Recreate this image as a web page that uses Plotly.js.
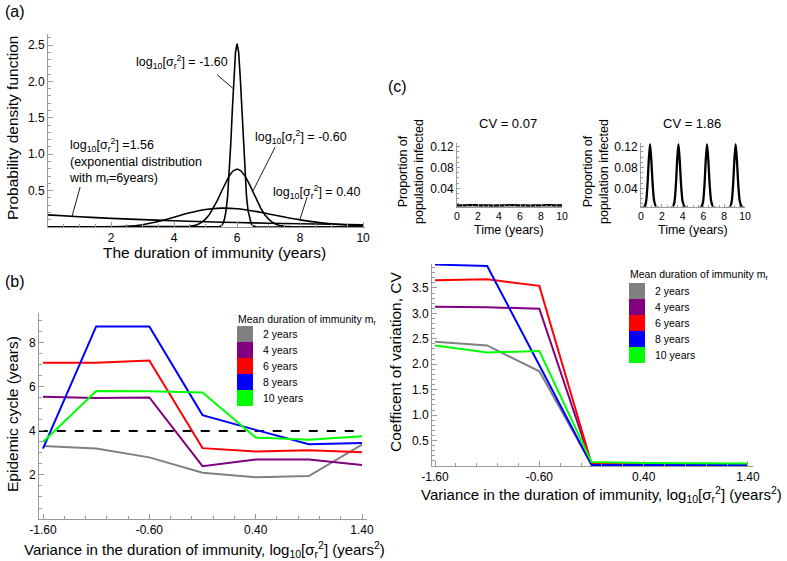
<!DOCTYPE html>
<html><head><meta charset="utf-8">
<script src="https://cdn.plot.ly/plotly-3.0.1.min.js"></script>
<style>body{margin:0;background:#fff}#c{width:787px;height:561px}</style>
</head><body><div id="c"></div><script>
// ---------- data ----------
// (a) probability density functions, mean 6 years
const pdfX_m160 = [0,5.3,5.4,5.45,5.5,5.55,5.6,5.65,5.7,5.75,5.8,5.85,5.9,5.95,6.0,6.05,6.1,6.15,6.2,6.25,6.3,6.35,6.4,6.45,6.5,6.55,6.6,6.7,10];
const pdfY_m160 = [0,0,0.002,0.006,0.017,0.045,0.105,0.22,0.42,0.726,1.14,1.61,2.06,2.40,2.52,2.40,2.06,1.61,1.14,0.726,0.42,0.22,0.105,0.045,0.017,0.006,0.002,0,0];
const pdfX_m060 = [0,4.0,4.25,4.5,4.625,4.75,4.875,5.0,5.125,5.25,5.375,5.5,5.625,5.75,5.875,6.0,6.125,6.25,6.375,6.5,6.625,6.75,6.875,7.0,7.125,7.25,7.375,7.5,7.75,8.0,10];
const pdfY_m060 = [0,0.0003,0.0018,0.009,0.0185,0.0355,0.064,0.109,0.173,0.26,0.366,0.484,0.602,0.703,0.771,0.796,0.771,0.703,0.602,0.484,0.366,0.26,0.173,0.109,0.064,0.0355,0.0185,0.009,0.0018,0.0003,0];
const pdfX_p040 = [0,1,1.5,2,2.5,3,3.5,4,4.5,5,5.5,6,6.5,7,7.5,8,8.5,9,9.5,10];
const pdfY_p040 = [0,0,0.0001,0.0015,0.0091,0.0315,0.0745,0.1337,0.1948,0.240,0.2593,0.2506,0.2207,0.1796,0.1366,0.0977,0.0665,0.0431,0.0269,0.0161];
const pdfX_p156 = [0,1,2,3,4,5,6,7,8,9,10];
const pdfY_p156 = [0.167,0.141,0.119,0.101,0.086,0.072,0.061,0.052,0.044,0.037,0.031];

// (b) epidemic cycle / CV vs variance
const varX = [-1.6,-1.1,-0.6,-0.1,0.4,0.9,1.4];
const cycle2  = [3.32,3.2,2.8,2.1,1.9,1.95,3.38];
const cycle4  = [5.55,5.5,5.52,2.4,2.7,2.7,2.45];
const cycle6  = [7.1,7.1,7.2,3.22,3.07,3.12,3.03];
const cycle8  = [3.2,8.75,8.75,4.72,4.05,3.4,3.45];
const cycle10 = [3.5,5.82,5.8,5.75,3.7,3.6,3.76];
const refX = [-1.64,1.4];
const refY = [4,4];
const cv2  = [2.44,2.37,1.86,0.03,0.03,0.03,0.03];
const cv4  = [3.13,3.12,3.09,0.04,0.04,0.04,0.04];
const cv6  = [3.65,3.67,3.54,0.05,0.04,0.04,0.04];
const cv8  = [3.96,3.93,1.98,0.02,0.02,0.02,0.02];
const cv10 = [2.37,2.23,2.26,0.08,0.06,0.05,0.05];
const seriesNames = ['2 years','4 years','6 years','8 years','10 years'];
const seriesColors = ['#808080','#800080','#ff0000','#0000ff','#00ff00'];

// (c) insets: proportion infected over time
const tLow = [0,0.5,1,1.5,2,2.5,3,3.5,4,4.5,5,5.5,6,6.5,7,7.5,8,8.5,9,9.5,10];
const infLow = [0.0068,0.0070,0.0072,0.0073,0.0071,0.0069,0.0067,0.0066,0.0068,0.0071,0.0073,0.0072,0.0069,0.0067,0.0066,0.0068,0.0071,0.0073,0.0072,0.0069,0.0067];
const tHigh = [0,0.27,0.47,0.62,0.75,0.87,0.99,1.12,1.27,1.47,1.77,2.3,2.75,3.0,3.2,3.35,3.48,3.6,3.72,3.85,4.0,4.2,4.5,5.0,5.5,5.75,5.95,6.1,6.23,6.35,6.47,6.6,6.75,6.95,7.25,7.8,8.2,8.5,8.7,8.85,8.98,9.1,9.22,9.35,9.5,9.7,10];
const infHigh = [0.003,0.003,0.012,0.045,0.095,0.125,0.095,0.048,0.015,0.004,0.002,0.002,0.002,0.003,0.012,0.045,0.095,0.125,0.095,0.048,0.015,0.004,0.002,0.002,0.002,0.003,0.012,0.045,0.095,0.125,0.095,0.048,0.015,0.004,0.002,0.002,0.002,0.003,0.012,0.045,0.095,0.125,0.095,0.048,0.015,0.004,0.002];

// ---------- drawing ----------
const W = 787, H = 561;
const FONT = 'Liberation Sans, Arial, Helvetica, sans-serif';
const px = v => v / W, py = v => 1 - v / H;
const traces = [];
const blk = {color:'#000', width:1.6};
traces.push({x:pdfX_m160, y:pdfY_m160, mode:'lines', line:blk, xaxis:'x', yaxis:'y'});
traces.push({x:pdfX_m060, y:pdfY_m060, mode:'lines', line:blk, xaxis:'x', yaxis:'y'});
traces.push({x:pdfX_p040, y:pdfY_p040, mode:'lines', line:Object.assign({shape:'spline'}, blk), xaxis:'x', yaxis:'y'});
traces.push({x:pdfX_p156, y:pdfY_p156, mode:'lines', line:Object.assign({shape:'spline'}, blk), xaxis:'x', yaxis:'y'});

const cycles = [cycle2, cycle4, cycle6, cycle8, cycle10];
const cvs = [cv2, cv4, cv6, cv8, cv10];
traces.push({x:refX, y:refY, mode:'lines', line:{color:'#000', width:2, dash:'dash'}, xaxis:'x2', yaxis:'y2'});
cycles.forEach((s,i)=>traces.push({x:varX, y:s, mode:'lines', line:{color:seriesColors[i], width:2}, xaxis:'x2', yaxis:'y2'}));
cvs.forEach((s,i)=>traces.push({x:varX, y:s, mode:'lines', line:{color:seriesColors[i], width:2}, xaxis:'x3', yaxis:'y3'}));
traces.push({x:tLow, y:infLow, mode:'lines', line:{color:'#000', width:2.5, shape:'spline'}, xaxis:'x4', yaxis:'y4'});
traces.push({x:tHigh, y:infHigh, mode:'lines', line:{color:'#000', width:2.3, shape:'spline', smoothing:0.7}, xaxis:'x5', yaxis:'y5'});

const tickFont = {family:FONT, size:12, color:'#000'};
function ax(extra){
  return Object.assign({showline:true, linecolor:'#9a9a9a', linewidth:1, ticks:'inside', ticklen:5,
    tickcolor:'#9a9a9a', showgrid:false, zeroline:false, tickfont:tickFont, mirror:false, fixedrange:true}, extra);
}
const layout = {
  width:W, height:H, margin:{l:0,r:0,t:0,b:0}, showlegend:false,
  paper_bgcolor:'#fff', plot_bgcolor:'rgba(0,0,0,0)', font:{family:FONT, color:'#000'},
  xaxis: ax({domain:[px(48),px(365)], range:[0,10.06], anchor:'y', tickvals:[2,4,6,8,10],
    minor:{tick0:0, dtick:0.5, ticklen:3, tickcolor:'#9a9a9a', ticks:'inside'}}),
  yaxis: ax({domain:[py(227),py(33.5)], range:[0,2.658], anchor:'x', tickvals:[0.5,1,1.5,2,2.5], ticktext:['0.5','1.0','1.5','2.0','2.5'],
    minor:{tick0:0, dtick:0.1, ticklen:3, tickcolor:'#9a9a9a', ticks:'inside'}}),
  xaxis2: ax({domain:[px(39),px(367)], range:[-1.6376,1.447], anchor:'y2', tickvals:[-1.6,-0.6,0.4,1.4], ticktext:['-1.60','-0.60','0.40','1.40'],
    minor:{tick0:-1.6, dtick:0.2, ticklen:3, tickcolor:'#9a9a9a', ticks:'inside'}}),
  yaxis2: ax({domain:[py(519),py(313)], range:[0,9.36], anchor:'x2', tickvals:[2,4,6,8],
    minor:{tick0:0, dtick:0.5, ticklen:3, tickcolor:'#9a9a9a', ticks:'inside'}}),
  xaxis3: ax({domain:[px(432),px(753)], range:[-1.6288,1.448], anchor:'y3', tickvals:[-1.6,-0.6,0.4,1.4], ticktext:['-1.60','-0.60','0.40','1.40'],
    minor:{tick0:-1.6, dtick:0.2, ticklen:3, tickcolor:'#9a9a9a', ticks:'inside'}}),
  yaxis3: ax({domain:[py(466),py(264)], range:[0,3.97], anchor:'x3', tickvals:[0.5,1,1.5,2,2.5,3,3.5], ticktext:['0.5','1.0','1.5','2.0','2.5','3.0','3.5'],
    minor:{tick0:0, dtick:0.1, ticklen:3, tickcolor:'#9a9a9a', ticks:'inside'}}),
  xaxis4: ax({domain:[px(457),px(562)], range:[0,10], anchor:'y4', tickvals:[0,2,4,6,8,10], tickfont:{family:FONT,size:10.5,color:'#000'}, ticklen:3,
    minor:{tick0:0, dtick:0.5, ticklen:2, tickcolor:'#9a9a9a', ticks:'inside'}}),
  yaxis4: ax({domain:[py(206.7),py(142.7)], range:[0.0046,0.1277], anchor:'x4', tickvals:[0.04,0.08,0.12], ticklen:3,
    minor:{tick0:0, dtick:0.01, ticklen:2, tickcolor:'#9a9a9a', ticks:'inside'}}),
  xaxis5: ax({domain:[px(641),px(745)], range:[0,10], anchor:'y5', tickvals:[0,2,4,6,8,10], tickfont:{family:FONT,size:10.5,color:'#000'}, ticklen:3,
    minor:{tick0:0, dtick:0.5, ticklen:2, tickcolor:'#9a9a9a', ticks:'inside'}}),
  yaxis5: ax({domain:[py(206.7),py(142.7)], range:[0.0046,0.1277], anchor:'x5', tickvals:[0.04,0.08,0.12], ticklen:3,
    minor:{tick0:0, dtick:0.01, ticklen:2, tickcolor:'#9a9a9a', ticks:'inside'}}),
  annotations: [], shapes: []
};
const A = layout.annotations, S = layout.shapes;
function txt(text, x, y, size, opt){
  A.push(Object.assign({text:text, x:px(x), y:py(y), xref:'paper', yref:'paper', showarrow:false,
    font:{family:FONT, size:size, color:'#000'}, xanchor:'center', yanchor:'middle'}, opt||{}));
}
const sig = 'log<sub>10</sub>[σ<sub>r</sub><sup>2</sup>]';
// panel labels
txt('(a)', 3, 11, 16, {xanchor:'left'});
txt('(b)', 3, 281, 16, {xanchor:'left'});
txt('(c)', 386, 87, 16, {xanchor:'left'});
// axis titles
txt('The duration of immunity (years)', 214, 253, 15.5);
txt('Probability density function', 13, 128, 15.5, {textangle:-90});
txt('Variance in the duration of immunity, '+sig+' (years<sup>2</sup>)', 204, 549, 15);
txt('Epidemic cycle (years)', 12, 414, 15.5, {textangle:-90});
txt('Variance in the duration of immunity, '+sig+' (years<sup>2</sup>)', 601, 494, 15);
txt('Coefficent of variation, CV', 395, 362, 15.5, {textangle:-90});
// insets
txt('CV = 0.07', 508, 123, 13);
txt('CV = 1.86', 692, 123, 13);
txt('Time (years)', 509, 230, 12.5);
txt('Time (years)', 693, 230, 12.5);
txt('Proportion of<br>population infected', 411, 172, 12.5, {textangle:-90});
txt('Proportion of<br>population infected', 596, 172, 12.5, {textangle:-90});
// (a) curve labels
txt(sig+' = -1.60', 182, 62, 12.5);
txt(sig+' = -0.60', 301, 137, 12.5);
txt(sig+' = 0.40', 317, 192, 12.5);
txt(sig+' =1.56<br>(exponential distribution<br>with m<sub>r</sub>=6years)', 67, 161, 12.5, {xanchor:'left', align:'left'});
// leader lines (data coords of panel a)
function lead(x0,y0,x1,y1){ S.push({type:'line', xref:'x', yref:'y', x0:x0,y0:y0,x1:x1,y1:y1, line:{color:'#000', width:0.9}}); }
lead(5.37,2.09,5.88,1.9);
lead(7.21,1.10,6.51,0.50);
lead(8.22,0.41,8.0,0.11);
lead(1.02,0.55,0.76,0.14);
// legends
function legend(x0, top, titleY){
  txt('Mean duration of immunity m<sub>r</sub>', x0-1, titleY, 10.5, {xanchor:'left'});
  seriesNames.forEach((n,i)=>{
    S.push({type:'rect', xref:'paper', yref:'paper', x0:px(x0), x1:px(x0+16), y0:py(top+16*i), y1:py(top+16*(i+1)),
      fillcolor:seriesColors[i], line:{width:0}});
    txt(n, x0+24, top+16*i+8, 10.5, {xanchor:'left'});
  });
}
legend(237, 326, 320);
legend(629, 283, 275);

Plotly.newPlot('c', traces, layout, {staticPlot:true, displayModeBar:false});
</script></body></html>
